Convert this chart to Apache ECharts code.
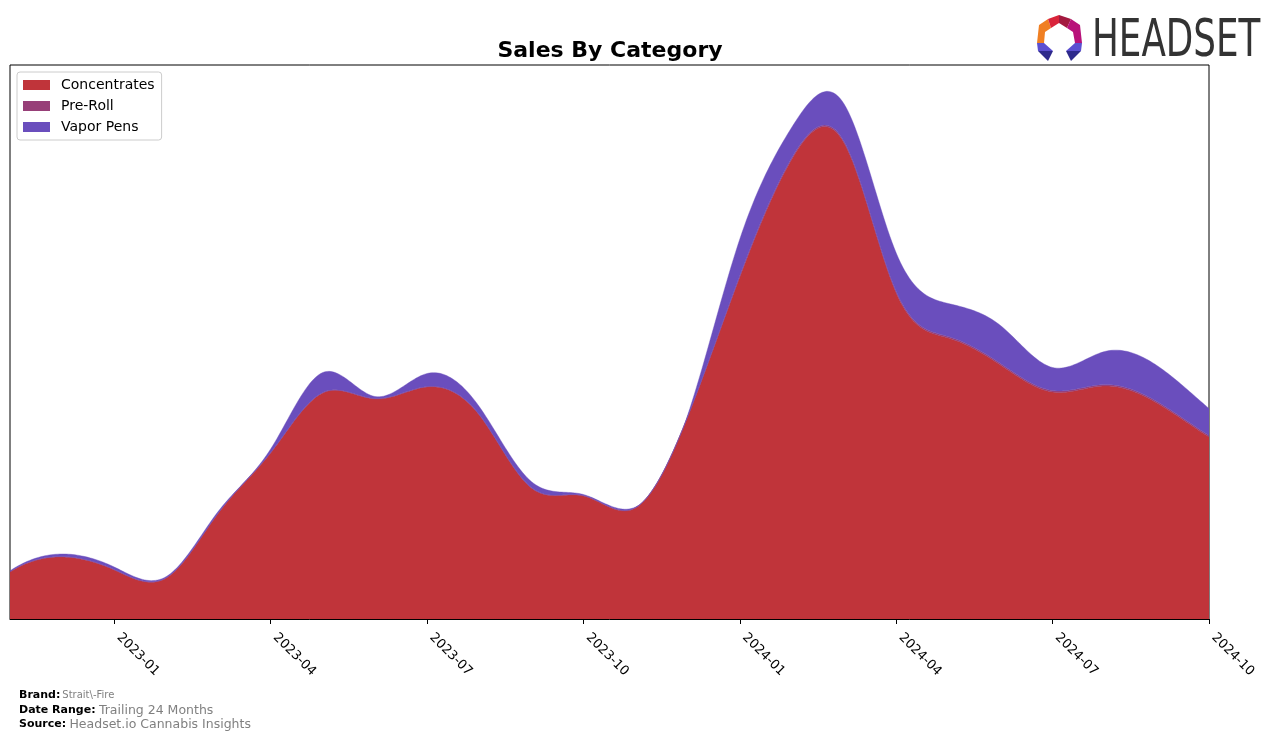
<!DOCTYPE html>
<html>
<head>
<meta charset="utf-8">
<script src="https://cdn.jsdelivr.net/npm/echarts@6/dist/echarts.min.js"></script>
<style>
html,body{margin:0;padding:0;background:#fff;}
#chart{width:1276px;height:741px;}
</style>
</head>
<body>
<div id="chart"></div>
<script>
// Monthly periods (first of month)
var months = ['2022-11','2022-12','2023-01','2023-02','2023-03','2023-04','2023-05','2023-06','2023-07','2023-08','2023-09','2023-10','2023-11','2023-12','2024-01','2024-02','2024-03','2024-04','2024-05','2024-06','2024-07','2024-08','2024-09','2024-10'];
// Sales (relative units) by category
var concentrates = [47,62,49,41,106,166,226,220,232,204,131,123,111,202,342,460,476,326,281,254,227,233,216,182];
var preRoll      = [0.5,0.5,0.5,0.5,0.5,0.5,0.5,0.5,0.5,0.5,0.5,0.5,0.5,0.5,1.5,1.5,1.5,1.5,1.5,1.5,1.5,1.5,1.5,1.5];
var vaporPens    = [0.7,2.5,2.5,1,1.5,3.5,20,2,13,8,6,1,0.5,1.5,36.5,30.5,37.5,38.5,33,38,23,33,36,27];
// Quarterly tick labels shown on the x axis
var tickLabels = ['2023-01','2023-04','2023-07','2023-10','2024-01','2024-04','2024-07','2024-10'];

var seriesNames = ['Concentrates','Pre-Roll','Vapor Pens'];
var seriesColors = ['#C0343A','#973F78','#6A4EBD'];
var FONT = 'DejaVu Sans';

// ---- cubic spline (not-a-knot), uniform spacing ----
function solve(A, b){
  var n = b.length, i, j, k;
  for (i = 0; i < n; i++){
    var p = i;
    for (k = i+1; k < n; k++) if (Math.abs(A[k][i]) > Math.abs(A[p][i])) p = k;
    var t = A[i]; A[i] = A[p]; A[p] = t; var tb = b[i]; b[i] = b[p]; b[p] = tb;
    for (k = i+1; k < n; k++){
      var f = A[k][i] / A[i][i];
      if (f === 0) continue;
      for (j = i; j < n; j++) A[k][j] -= f * A[i][j];
      b[k] -= f * b[i];
    }
  }
  var x = new Array(n);
  for (i = n-1; i >= 0; i--){
    var s = b[i];
    for (j = i+1; j < n; j++) s -= A[i][j] * x[j];
    x[i] = s / A[i][i];
  }
  return x;
}
function splineM(y){
  var n = y.length, A = [], b = [], i, j;
  for (i = 0; i < n; i++){ A.push([]); for (j = 0; j < n; j++) A[i].push(0); b.push(0); }
  A[0][0] = 1; A[0][1] = -2; A[0][2] = 1;
  for (i = 1; i < n-1; i++){ A[i][i-1] = 1; A[i][i] = 4; A[i][i+1] = 1; b[i] = 6*(y[i-1]-2*y[i]+y[i+1]); }
  A[n-1][n-3] = 1; A[n-1][n-2] = -2; A[n-1][n-1] = 1;
  return solve(A, b);
}
var STEPS = 24;
function splineSample(y){
  var M = splineM(y), out = [], n = y.length;
  for (var i = 0; i < n-1; i++){
    for (var s = 0; s < STEPS; s++){
      var t = s / STEPS, u = 1 - t;
      out.push([i + t, Math.max(0, u*y[i] + t*y[i+1] + (u*u*u-u)*M[i]/6 + (t*t*t-t)*M[i+1]/6)]);
    }
  }
  out.push([n-1, Math.max(0, y[n-1])]);
  return out;
}
var layers = [concentrates, preRoll, vaporPens].map(splineSample);
var cum = [];
(function(){
  var base = layers[0].map(function(p){ return 0; });
  for (var L = 0; L < layers.length; L++){
    var lower = base.slice();
    var upper = layers[L].map(function(p, k){ return base[k] + p[1]; });
    cum.push({lower: lower, upper: upper});
    base = upper;
  }
})();
var xs = layers[0].map(function(p){ return p[0]; });

function makeRender(L){
  return function(params, api){
    var pts = [], k;
    for (k = 0; k < xs.length; k++) pts.push(api.coord([xs[k], cum[L].upper[k]]));
    for (k = xs.length - 1; k >= 0; k--) pts.push(api.coord([xs[k], cum[L].lower[k]]));
    return {
      type: 'polygon', shape: {points: pts},
      style: {fill: seriesColors[L], stroke: seriesColors[L], lineWidth: 0.4}
    };
  };
}

function showTick(index){ return tickLabels.indexOf(months[index]) >= 0; }

var chart = echarts.init(document.getElementById('chart'), null, {renderer:'canvas'});

var option = {
  backgroundColor: '#fff',
  animation: false,
  title: {
    text: 'Sales By Category',
    left: 605, top: 35, textAlign: 'center',
    textStyle: {fontFamily: FONT, fontWeight: 'bold', fontSize: 22, color: '#000'}
  },
  legend: {
    orient: 'vertical', left: 17, top: 72,
    data: seriesNames,
    icon: 'rect', itemWidth: 27, itemHeight: 10, itemGap: 5,
    padding: [5, 7, 5, 6],
    backgroundColor: '#fff', borderColor: '#cccccc', borderWidth: 1, borderRadius: 3,
    textStyle: {fontFamily: FONT, fontSize: 14, color: '#000', lineHeight: 16, padding: [0, 0, 0, 6]}
  },
  grid: {
    left: 10, right: 67, top: 65, bottom: 122,
    show: true, borderColor: '#000', borderWidth: 1, backgroundColor: 'transparent'
  },
  xAxis: [
    {
      type: 'category', data: months, boundaryGap: false,
      axisLine: {show: true, lineStyle: {color: '#000', width: 1}},
      axisTick: {show: true, interval: function(i){return showTick(i);}, length: 5, lineStyle: {color: '#000'}},
      axisLabel: {
        interval: function(i){return showTick(i);},
        rotate: -45, margin: 21, verticalAlign: 'bottom',
        fontFamily: FONT, fontSize: 13, color: '#000'
      },
      splitLine: {show: false}
    },
    {
      type: 'value', min: 0, max: months.length - 1, show: false
    }
  ],
  yAxis: {
    type: 'value', min: 0, max: 554,
    axisLine: {show: false}, axisTick: {show: false}, axisLabel: {show: false}, splitLine: {show: false}
  },
  series: seriesNames.map(function(name, L){
    return {
      name: name, type: 'custom', xAxisIndex: 1, yAxisIndex: 0,
      data: [[0, 0]],
      renderItem: makeRender(L),
      itemStyle: {color: seriesColors[L]},
      clip: true, silent: true, animation: false
    };
  }),
  graphic: [
    {
      type: 'text', left: 19, top: 690,
      style: {
        text: '{b|Brand:}{v|Strait\\-Fire}',
        rich: {
          b: {fontFamily: FONT, fontWeight: 'bold', fontSize: 11, fill: '#000', padding:[0,2,0,0]},
          v: {fontFamily: FONT, fontSize: 10, fill: '#808080'}
        }
      }
    },
    {
      type: 'text', left: 19, top: 704,
      style: {
        text: '{b|Date Range:} {v|Trailing 24 Months}',
        rich: {
          b: {fontFamily: FONT, fontWeight: 'bold', fontSize: 11, fill: '#000'},
          v: {fontFamily: FONT, fontSize: 12.5, fill: '#808080'}
        }
      }
    },
    {
      type: 'text', left: 19, top: 718,
      style: {
        text: '{b|Source:} {v|Headset.io Cannabis Insights}',
        rich: {
          b: {fontFamily: FONT, fontWeight: 'bold', fontSize: 11, fill: '#000'},
          v: {fontFamily: FONT, fontSize: 12.5, fill: '#808080'}
        }
      }
    },
    // HEADSET logo
    {
      type: 'group', left: 1037, top: 15,
      children: [
        {type:'polygon', shape:{points:[[3,10],[12,4],[15,13],[9,17],[8,28],[1,28]]}, style:{fill:'#F07F22'}},
        {type:'polygon', shape:{points:[[12,4],[23,0],[23,8],[15,13]]}, style:{fill:'#D9243A'}},
        {type:'polygon', shape:{points:[[23,0],[35,4],[31,13],[23,8]]}, style:{fill:'#A3193F'}},
        {type:'polygon', shape:{points:[[35,4],[44,10],[46,28],[39,28],[37,17],[31,13]]}, style:{fill:'#B8127A'}},
        {type:'polygon', shape:{points:[[1,28],[8,28],[17,36],[2,36]]}, style:{fill:'#5B4FD1'}},
        {type:'polygon', shape:{points:[[2,36],[17,36],[12,46]]}, style:{fill:'#2E2A8C'}},
        {type:'polygon', shape:{points:[[39,28],[46,28],[45,36],[30,36]]}, style:{fill:'#5B4FD1'}},
        {type:'polygon', shape:{points:[[30,36],[45,36],[35,46]]}, style:{fill:'#2E2A8C'}}
      ]
    },
    {
      type: 'text', left: 1092, top: 17, scaleX: 0.7,
      style: {text: 'HEADSET', fontFamily: FONT, fontSize: 51, fill: '#333333'}
    }
  ]
};
chart.setOption(option);
</script>
</body>
</html>
